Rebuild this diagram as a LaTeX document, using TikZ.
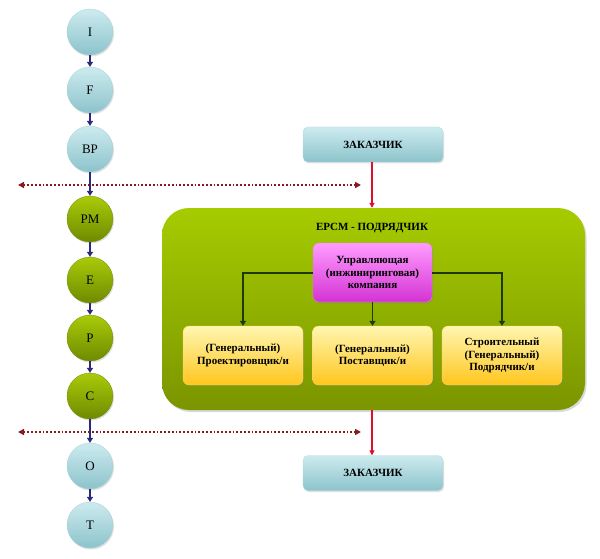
\documentclass[tikz,border=0pt]{standalone}
\usepackage{fontspec}
\setmainfont{Liberation Serif}
\usetikzlibrary{arrows.meta,shadows}
\definecolor{bluetop}{HTML}{CDEBEF}
\definecolor{bluebot}{HTML}{8CC3CB}
\definecolor{greentop}{HTML}{A9CB08}
\definecolor{greenbot}{HTML}{6F8A00}
\definecolor{bigtop}{HTML}{A6CC00}
\definecolor{bigbot}{HTML}{7B9500}
\definecolor{pinktop}{HTML}{FF9CFF}
\definecolor{pinkbot}{HTML}{D433D4}
\definecolor{yeltop}{HTML}{FFF6B0}
\definecolor{yelbot}{HTML}{FFC61E}
\definecolor{navy}{HTML}{2B2A78}
\definecolor{darkred}{HTML}{8B1A1A}
\definecolor{arrred}{HTML}{E0102A}
\definecolor{darkgreen}{HTML}{1F3A00}
\begin{document}
\begin{tikzpicture}[x=1pt,y=-1pt,
  circ/.style={circle,minimum size=46pt,inner sep=0pt,font=\fontsize{13}{15}\selectfont,
    drop shadow={shadow xshift=1pt,shadow yshift=-1.5pt,opacity=0.25}},
  bluecirc/.style={circ,top color=bluetop,bottom color=bluebot,draw=bluebot!80!white,line width=0.3pt},
  greencirc/.style={circ,top color=greentop,bottom color=greenbot,draw=greenbot,line width=0.3pt},
  navyarrow/.style={draw=navy,line width=1.8pt,-{Triangle[length=5pt,width=6pt]}},
  dotline/.style={draw=darkred,dotted,line width=1.8pt,{Triangle[length=6pt,width=6pt]}-{Triangle[length=6pt,width=6pt]}},
  redarrow/.style={draw=arrred,line width=1.5pt,-{Triangle[length=5pt,width=5pt]}},
  greenarrow/.style={draw=darkgreen,line width=1.9pt,-{Triangle[length=5pt,width=6pt]}},
  boxtext/.style={font=\bfseries\fontsize{11}{12.5}\selectfont,align=center,text=black},
  custbox/.style={boxtext,rounded corners=5pt,minimum width=140pt,minimum height=35pt,
    top color=bluetop,bottom color=bluebot,draw=bluebot!70!white,line width=0.3pt,
    drop shadow={shadow xshift=1pt,shadow yshift=-1.5pt,opacity=0.25}},
  bigbox/.style={rounded corners=27pt,minimum width=423pt,minimum height=202pt,
    top color=bigtop,bottom color=bigbot,draw=none,
    drop shadow={shadow xshift=1.5pt,shadow yshift=-2pt,opacity=0.3}},
  pinkbox/.style={boxtext,rounded corners=6pt,minimum width=119pt,minimum height=59pt,
    top color=pinktop,bottom color=pinkbot,draw=pinkbot!60!white,line width=0.3pt,
    drop shadow={shadow xshift=1pt,shadow yshift=-1.5pt,opacity=0.3}},
  yelbox/.style={boxtext,rounded corners=6pt,minimum width=120pt,minimum height=59pt,
    top color=yeltop,bottom color=yelbot,draw=yelbot!70!white,line width=0.3pt,
    drop shadow={shadow xshift=1pt,shadow yshift=-1.5pt,opacity=0.3}}
]
\useasboundingbox (0,0) rectangle (600,559);

% dotted separator lines
\coordinate (d1a) at (18,185);
\coordinate (d1b) at (361,185);
\coordinate (d2a) at (18,432);
\coordinate (d2b) at (361,432);
\draw[dotline] (d1a) -- (d1b);
\draw[dotline] (d2a) -- (d2b);

% phase circles
\node[bluecirc] (I) at (90,32) {I};
\node[bluecirc] (F) at (90,90) {F};
\node[bluecirc] (BP) at (90,149) {BP};
\node[greencirc] (PM) at (90,219) {PM};
\node[greencirc] (E) at (90,280) {E};
\node[greencirc] (P) at (90,338) {P};
\node[greencirc] (C) at (90,396) {C};
\node[bluecirc] (O) at (90,466) {O};
\node[bluecirc] (T) at (90,525) {T};

\foreach \a/\b in {I/F,F/BP,BP/PM,PM/E,E/P,P/C,C/O,O/T}
  \draw[navyarrow] (\a) -- (\b);

% customer boxes
\node[custbox] (Z1) at (373,144.5) {ЗАКАЗЧИК};
\node[custbox] (Z2) at (373,473) {ЗАКАЗЧИК};

% big contractor box
\node[bigbox] (G) at (373.5,309) {};
\node[boxtext] (title) at (372,228) {EPCM - ПОДРЯДЧИК};

\node[pinkbox] (M) at (372.5,272.5) {Управляющая\\(инжиниринговая)\\компания};
\node[yelbox] (Y1) at (243,355.5) {(Генеральный)\\Проектировщик/и};
\node[yelbox] (Y2) at (372.5,355.5) {(Генеральный)\\Поставщик/и};
\node[yelbox] (Y3) at (502,355.5) {Строительный\\(Генеральный)\\Подрядчик/и};

\draw[greenarrow] (M.west |- 0,273) -| (Y1.north);
\draw[greenarrow] (M.east |- 0,273) -| (Y3.north);
\draw[greenarrow] (M.south) -- (Y2.north);

\draw[redarrow] (Z1.south -| 372,0) -- (G.north -| 372,0);
\draw[redarrow] (G.south -| 372,0) -- (Z2.north -| 372,0);
\end{tikzpicture}
\end{document}
